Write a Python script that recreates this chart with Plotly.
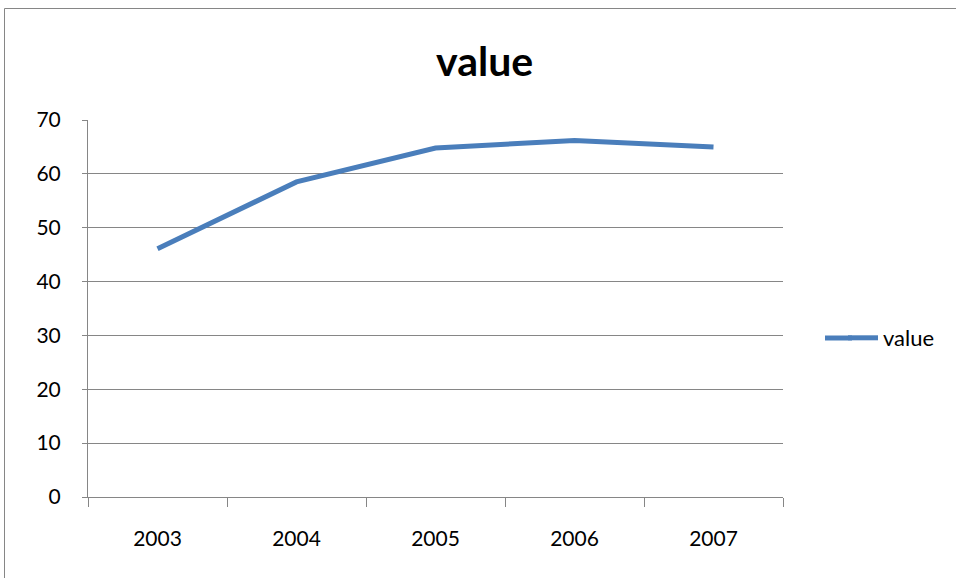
import plotly.graph_objects as go

years = ["2003", "2004", "2005", "2006", "2007"]
values = [46.1, 58.5, 64.8, 66.2, 65.0]
series_name = "value"
y_ticks = [0, 10, 20, 30, 40, 50, 60, 70]

FONT = "Lato"
GRID = "#868686"
LINE = "#4A7EBB"

fig = go.Figure()
fig.add_trace(go.Scatter(
    x=years, y=values, mode="lines", name=series_name,
    line=dict(color=LINE, width=5),
))

L, R, T, B = 88, 173, 120, 81
W, H = 956, 578
pw, ph = W - L - R, H - T - B
leg_y = (497 - 338) / ph

fig.update_layout(
    width=W, height=H,
    margin=dict(l=L, r=R, t=T, b=B, autoexpand=False),
    paper_bgcolor="white", plot_bgcolor="white",
    font=dict(family=FONT, size=21, color="black"),
    title=dict(text="<b>value</b>", x=0.507, xanchor="center",
               y=1 - 62 / H, yanchor="middle",
               font=dict(family=FONT, size=41, color="black")),
    showlegend=True,
    legend=dict(x=(843 - L) / pw, xanchor="left", y=leg_y, yanchor="middle",
                font=dict(family=FONT, size=22), bgcolor="rgba(0,0,0,0)",
                itemwidth=30),
    xaxis=dict(type="category", range=[-0.5, 4.5], showgrid=False, showline=True,
               linecolor=GRID, linewidth=1,
               ticks="outside", tickson="boundaries", ticklen=9, tickcolor=GRID,
               ticklabelstandoff=23, zeroline=False),
    yaxis=dict(range=[0, 70], tickvals=y_ticks, showgrid=True, gridcolor=GRID, gridwidth=1,
               showline=True, linecolor=GRID, linewidth=1, ticks="outside", ticklen=5,
               tickcolor=GRID, ticklabelstandoff=17, zeroline=False),
    shapes=[
        dict(type="rect", xref="paper", yref="paper",
             x0=(4.5 - L) / pw, x1=(W + 10 - L) / pw,
             y0=-(B + 10) / ph, y1=1 + (T - 8.5) / ph,
             line=dict(color=GRID, width=1), fillcolor="rgba(0,0,0,0)", layer="below"),
        # extend the legend key line to the reference's longer length
        dict(type="line", xref="paper", yref="paper",
             x0=(825 - L) / pw, x1=(852 - L) / pw, y0=leg_y, y1=leg_y,
             line=dict(color=LINE, width=5)),
    ],
)

fig.write_html("out.html", config={"displayModeBar": False},
               post_script="document.body.style.margin='0';document.body.style.overflow='hidden';")
